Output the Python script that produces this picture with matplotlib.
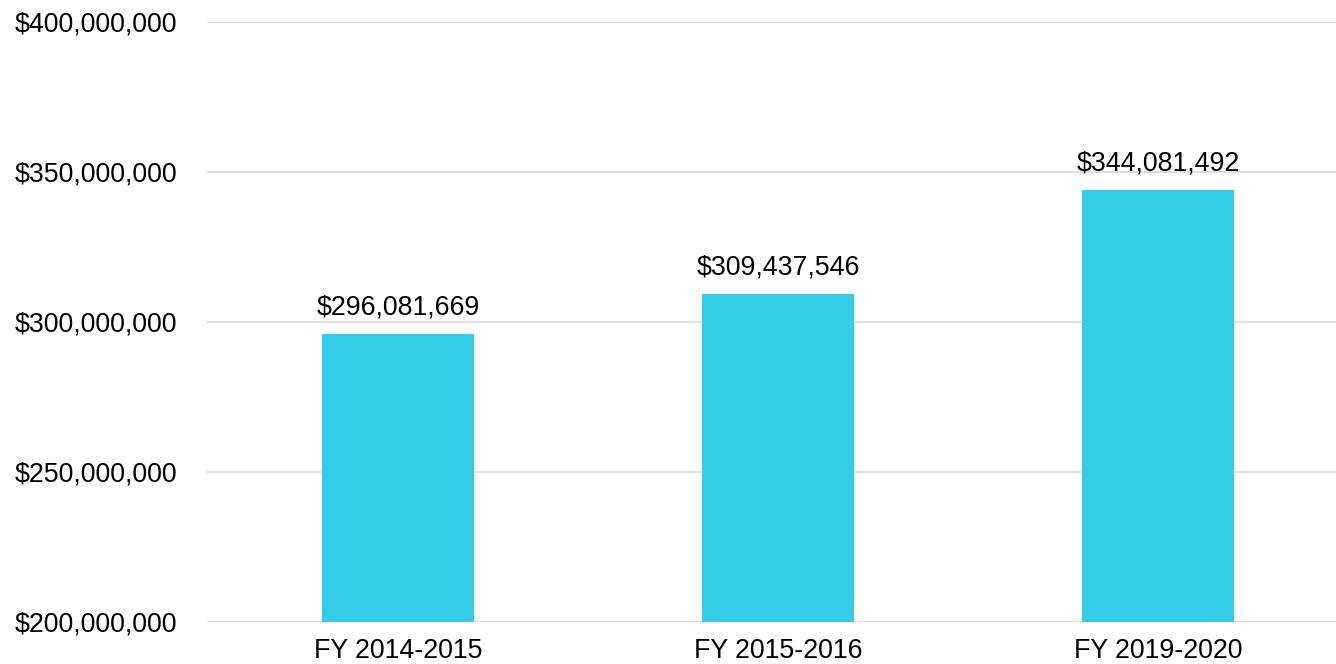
import matplotlib.pyplot as plt
from matplotlib.ticker import FuncFormatter

plt.rcParams['font.family'] = ['Liberation Sans', 'DejaVu Sans']

# data
years = ["FY 2014-2015", "FY 2015-2016", "FY 2019-2020"]
amounts = [296081669, 309437546, 344081492]
y_ticks = [200000000, 250000000, 300000000, 350000000, 400000000]

fig = plt.figure(figsize=(13.36, 6.64), dpi=100)
ax = fig.add_axes([0.155, 0.0633, 0.845, 0.9037])

x = range(len(years))
bars = ax.bar(x, amounts, width=0.4, color='#33CCE6', zorder=3)
for b, v in zip(bars, amounts):
    ax.annotate(f"${v:,}", (b.get_x() + b.get_width() / 2, v),
                xytext=(0, 9.5), textcoords='offset points',
                ha='center', va='bottom', fontsize=19.3, color='#000000')

ax.set_xlim(-0.503, 2.468)
ax.set_ylim(200000000, 400000000)
ax.set_yticks(y_ticks)
ax.yaxis.set_major_formatter(FuncFormatter(lambda v, p: f"${v:,.0f}"))
ax.set_xticks(list(x))
ax.set_xticklabels(years)
ax.tick_params(axis='both', length=0, labelsize=19.3, colors='#000000')
ax.tick_params(axis='y', pad=21.5)
ax.tick_params(axis='x', pad=11.5)
ax.grid(axis='y', color='#D9D9D9', linewidth=1.2, zorder=0)
for s in ax.spines.values():
    s.set_visible(False)

fig.savefig('out.png', dpi=100)
